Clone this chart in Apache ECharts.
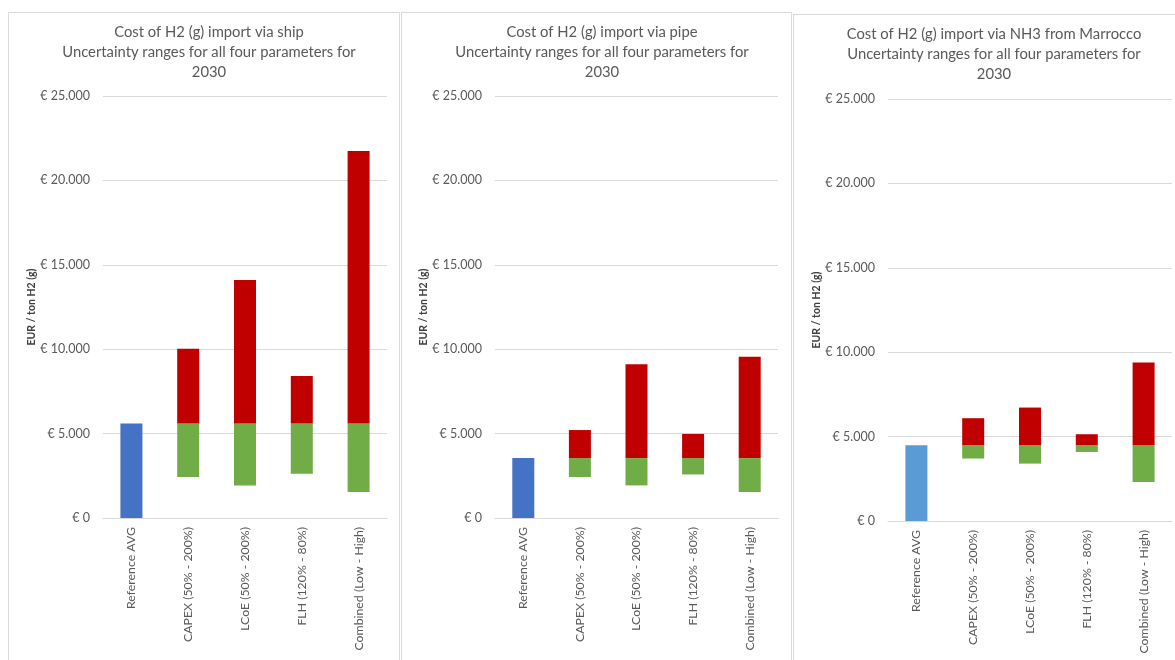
<!DOCTYPE html>
<html>
<head>
<meta charset="utf-8">
<script src="https://cdn.jsdelivr.net/npm/echarts@6/dist/echarts.min.js"></script>
<style>
  html, body { margin: 0; padding: 0; background: #ffffff; width: 1175px; height: 660px; overflow: hidden; position: relative; }
  .panel { position: absolute; border: 1px solid #d9d9d9; box-sizing: border-box; background: #fff; }
</style>
</head>
<body>
<div id="p1" class="panel" style="left:8px; top:12px; width:392px; height:660px;"></div>
<div id="p2" class="panel" style="left:401px; top:12px; width:391px; height:660px;"></div>
<div id="p3" class="panel" style="left:793px; top:14px; width:400px; height:660px;"></div>
<script>
// Scenario categories along the x axis
const categories = ['Reference AVG', 'CAPEX (50% - 200%)', 'LCoE (50% - 200%)', 'FLH (120% - 80%)', 'Combined (Low - High)'];

// Y axis ticks (EUR / ton H2)
const yTicks = [0, 5000, 10000, 15000, 20000, 25000];

// Import via ship
const shipRef = 5600;
const shipLow = [2430, 1930, 2620, 1540];
const shipHigh = [10030, 14100, 8410, 21740];

// Import via pipe
const pipeRef = 3550;
const pipeLow = [2430, 1930, 2580, 1540];
const pipeHigh = [5210, 9110, 4980, 9550];

// Import via NH3 from Marrocco
const nh3Ref = 4490;
const nh3Low = [3700, 3400, 4090, 2310];
const nh3High = [6090, 6720, 5140, 9390];

const titles = [
  'Cost of H2 (g) import via ship\nUncertainty ranges for all four parameters for\n2030',
  'Cost of H2 (g) import via pipe\nUncertainty ranges for all four parameters for\n2030',
  'Cost of H2 (g) import via NH3 from Marrocco\nUncertainty ranges for all four parameters for\n2030'
];

const FONT = 'Lato, "Open Sans", sans-serif';

function euro(v) {
  if (v === 0) return '€ 0';
  return '€ ' + String(v).replace(/\B(?=(\d{3})+(?!\d))/g, '.');
}

function buildOption(title, ref, low, high, refColor, grid, titleX) {
  // Stacked segments: invisible base, reference bar, below-reference part, above-reference part
  const base = ['-'].concat(low);
  const refBar = [ref, '-', '-', '-', '-'];
  const green = ['-'].concat(low.map(v => ref - v));
  const red = ['-'].concat(high.map(v => v - ref));
  return {
    animation: false,
    title: {
      text: title,
      left: titleX,
      top: 4,
      textAlign: 'center',
      textStyle: { fontFamily: FONT, fontSize: 14.8, fontWeight: 'normal', color: '#595959', lineHeight: 20, align: 'center' }
    },
    grid: grid,
    xAxis: {
      type: 'category',
      data: categories,
      axisLine: { lineStyle: { color: '#d9d9d9' } },
      axisTick: { show: false },
      axisLabel: { rotate: 90, margin: 9, fontFamily: FONT, fontSize: 12.3, color: '#595959', interval: 0 }
    },
    yAxis: {
      type: 'value',
      min: yTicks[0],
      max: yTicks[yTicks.length - 1],
      interval: yTicks[1] - yTicks[0],
      name: 'EUR / ton H2 (g)',
      nameLocation: 'middle',
      nameGap: 66,
      nameMoveOverlap: false,
      nameTextStyle: { fontFamily: FONT, fontSize: 10.5, fontWeight: 'bold', color: '#404040' },
      axisLine: { show: false },
      axisTick: { show: false },
      splitLine: { lineStyle: { color: '#d9d9d9' } },
      axisLabel: { formatter: euro, fontFamily: FONT, fontSize: 12.5, color: '#595959', margin: 13 }
    },
    series: [
      { type: 'bar', stack: 's', data: base, barWidth: 22, itemStyle: { color: 'rgba(0,0,0,0)' }, silent: true },
      { type: 'bar', stack: 's', data: refBar, barWidth: 22, itemStyle: { color: refColor } },
      { type: 'bar', stack: 's', data: green, barWidth: 22, itemStyle: { color: '#70ad47' } },
      { type: 'bar', stack: 's', data: red, barWidth: 22, itemStyle: { color: '#c00000' } }
    ]
  };
}

const panels = [
  { id: 'p1', title: titles[0], ref: shipRef, low: shipLow, high: shipHigh, color: '#4472c4',
    grid: { left: 94, top: 83, width: 284, height: 422 }, titleX: 195 },
  { id: 'p2', title: titles[1], ref: pipeRef, low: pipeLow, high: pipeHigh, color: '#4472c4',
    grid: { left: 93, top: 83, width: 283, height: 422 }, titleX: 195 },
  { id: 'p3', title: titles[2], ref: nh3Ref, low: nh3Low, high: nh3High, color: '#5b9bd5',
    grid: { left: 94, top: 84, width: 284, height: 422 }, titleX: 195 }
];

panels.forEach(p => {
  const chart = echarts.init(document.getElementById(p.id), null, { renderer: 'canvas' });
  chart.setOption(buildOption(p.title, p.ref, p.low, p.high, p.color, p.grid, p.titleX));
});
</script>
</body>
</html>
